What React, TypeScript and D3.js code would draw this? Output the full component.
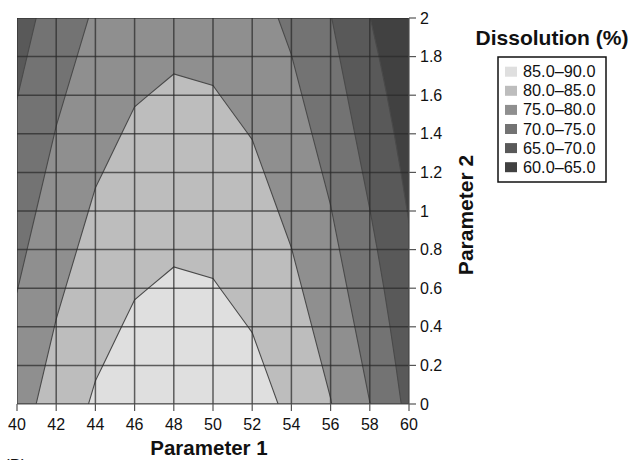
import React from "react";
import * as d3 from "d3";

// Grid axes
const param1 = [40, 42, 44, 46, 48, 50, 52, 54, 56, 58, 60];
const param2 = [0, 0.2, 0.4, 0.6, 0.8, 1.0, 1.2, 1.4, 1.6, 1.8, 2.0];

// Dissolution (%) on the grid: one row per Parameter 2 value (0 → 2), one column per Parameter 1 value
const dissolution: number[][] = [
  [77.9, 82.2, 85.6, 87.7, 88.55, 88.25, 86.85, 84.05, 80.15, 75.05, 68.75],
  [76.9, 81.2, 84.6, 86.7, 87.55, 87.25, 85.85, 83.05, 79.15, 74.05, 67.95],
  [75.9, 80.2, 83.6, 85.7, 86.55, 86.25, 84.85, 82.05, 78.15, 73.05, 67.15],
  [74.9, 79.2, 82.6, 84.7, 85.55, 85.25, 83.85, 81.05, 77.15, 72.05, 66.35],
  [73.9, 78.2, 81.6, 83.7, 84.55, 84.25, 82.85, 80.05, 76.15, 71.05, 65.55],
  [72.9, 77.2, 80.6, 82.7, 83.55, 83.25, 81.85, 79.05, 75.15, 70.05, 64.75],
  [71.9, 76.2, 79.6, 81.7, 82.55, 82.25, 80.85, 78.05, 74.15, 69.05, 63.95],
  [70.9, 75.2, 78.6, 80.7, 81.55, 81.25, 79.85, 77.05, 73.15, 68.05, 63.15],
  [69.9, 74.2, 77.6, 79.7, 80.55, 80.25, 78.85, 76.05, 72.15, 67.05, 62.35],
  [68.9, 73.2, 76.6, 78.7, 79.55, 79.25, 77.85, 75.05, 71.15, 66.05, 61.55],
  [67.9, 72.2, 75.6, 77.7, 78.55, 78.25, 76.85, 74.05, 70.15, 65.05, 60.75],
];

// Band lower bounds, labels and fills (darkest = lowest)
const thresholds = [60, 65, 70, 75, 80, 85];
const bandLabels = ["60.0–65.0", "65.0–70.0", "70.0–75.0", "75.0–80.0", "80.0–85.0", "85.0–90.0"];
const bandColors = ["#414141", "#595959", "#737373", "#8f8f8f", "#bdbdbd", "#dfdfdf"];

const xTicks = param1;
const yTicks = param2;
const yTickLabels = ["0", "0.2", "0.4", "0.6", "0.8", "1", "1.2", "1.4", "1.6", "1.8", "2"];

const W = 632;
const H = 460;
const plot = { left: 17, right: 409, top: 18, bottom: 404 };
const FONT = "'Liberation Sans', Arial, Helvetica, sans-serif";

export default function App() {
  const x = d3.scaleLinear().domain([param1[0], param1[param1.length - 1]]).range([plot.left, plot.right]);
  const y = d3.scaleLinear().domain([param2[0], param2[param2.length - 1]]).range([plot.bottom, plot.top]);

  const nx = param1.length;
  const ny = param2.length;
  const dxStep = param1[1] - param1[0];
  const dyStep = param2[1] - param2[0];
  const flat: number[] = [];
  for (let j = 0; j < ny; j++) for (let i = 0; i < nx; i++) flat.push(dissolution[j][i]);

  const contours = d3.contours().size([nx, ny]).thresholds(thresholds)(flat);

  // d3.contours places sample i at grid coordinate i + 0.5
  const gx = (g: number) => x(param1[0] + (g - 0.5) * dxStep);
  const gy = (g: number) => y(param2[0] + (g - 0.5) * dyStep);
  const path = d3.geoPath(
    d3.geoTransform({
      point(px: number, py: number) {
        (this as any).stream.point(gx(px), gy(py));
      },
    })
  );

  const legendX = 498;
  const legendY = 57;
  const rowH = 19.1;
  const legendOrder = bandLabels.map((_, i) => bandLabels.length - 1 - i);

  return (
    <svg
      width={W}
      height={H}
      style={{ position: "absolute", left: 0, top: 0, background: "#fff" }}
      fontFamily={FONT}
    >
      <defs>
        <clipPath id="plot-clip">
          <rect x={plot.left} y={plot.top} width={plot.right - plot.left} height={plot.bottom - plot.top} />
        </clipPath>
      </defs>

      <g clipPath="url(#plot-clip)">
        {contours.map((c, i) => (
          <path key={`f${i}`} d={path(c as any) || ""} fill={bandColors[i]} stroke="none" />
        ))}
        {contours.slice(1).map((c, i) => (
          <path key={`s${i}`} d={path(c as any) || ""} fill="none" stroke="#4a4a4a" strokeWidth={1.1} />
        ))}
        {/* grid */}
        {xTicks.map((t) => (
          <line key={`gx${t}`} x1={x(t)} x2={x(t)} y1={plot.top} y2={plot.bottom} stroke="#2a2a2a" strokeOpacity={0.72} strokeWidth={1.5} />
        ))}
        {yTicks.map((t) => (
          <line key={`gy${t}`} x1={plot.left} x2={plot.right} y1={y(t)} y2={y(t)} stroke="#2a2a2a" strokeOpacity={0.72} strokeWidth={1.5} />
        ))}
      </g>

      {/* bottom axis */}
      <line x1={plot.left} x2={plot.right} y1={plot.bottom} y2={plot.bottom} stroke="#555" strokeWidth={1.2} />
      {xTicks.map((t) => (
        <g key={`xt${t}`}>
          <line x1={x(t)} x2={x(t)} y1={plot.bottom} y2={plot.bottom + 7} stroke="#555" strokeWidth={1.2} />
          <text x={x(t)} y={430} textAnchor="middle" fontSize={16} fill="#111">
            {t}
          </text>
        </g>
      ))}

      {/* right axis */}
      <line x1={plot.right} x2={plot.right} y1={plot.top} y2={plot.bottom} stroke="#555" strokeWidth={1.2} />
      {yTicks.map((t, i) => (
        <g key={`yt${t}`}>
          <line x1={plot.right} x2={plot.right + 7} y1={y(t)} y2={y(t)} stroke="#555" strokeWidth={1.2} />
          <text x={420} y={y(t) + 5.5} textAnchor="start" fontSize={16} fill="#111">
            {yTickLabels[i]}
          </text>
        </g>
      ))}

      {/* axis titles */}
      <text x={209} y={455} textAnchor="middle" fontSize={20.5} fontWeight="bold" fill="#111">
        Parameter 1
      </text>
      <text
        transform={`translate(473, 215) rotate(-90)`}
        textAnchor="middle"
        fontSize={21}
        fontWeight="bold"
        fill="#111"
      >
        Parameter 2
      </text>

      {/* legend */}
      <text x={552} y={45} textAnchor="middle" fontSize={21} fontWeight="bold" fill="#111">
        Dissolution (%)
      </text>
      <rect x={legendX} y={legendY} width={108} height={125} fill="#fff" stroke="#111" strokeWidth={1.5} />
      {legendOrder.map((bi, r) => (
        <g key={`lg${bi}`}>
          <rect x={505} y={legendY + 14.7 + r * rowH - 5} width={12} height={10} fill={bandColors[bi]} />
          <text x={523} y={legendY + 14.7 + r * rowH + 5.5} fontSize={16.3} fill="#111">
            {bandLabels[bi]}
          </text>
        </g>
      ))}

      <text x={4} y={471} fontSize={17} fill="#111">
        (B)
      </text>
    </svg>
  );
}
